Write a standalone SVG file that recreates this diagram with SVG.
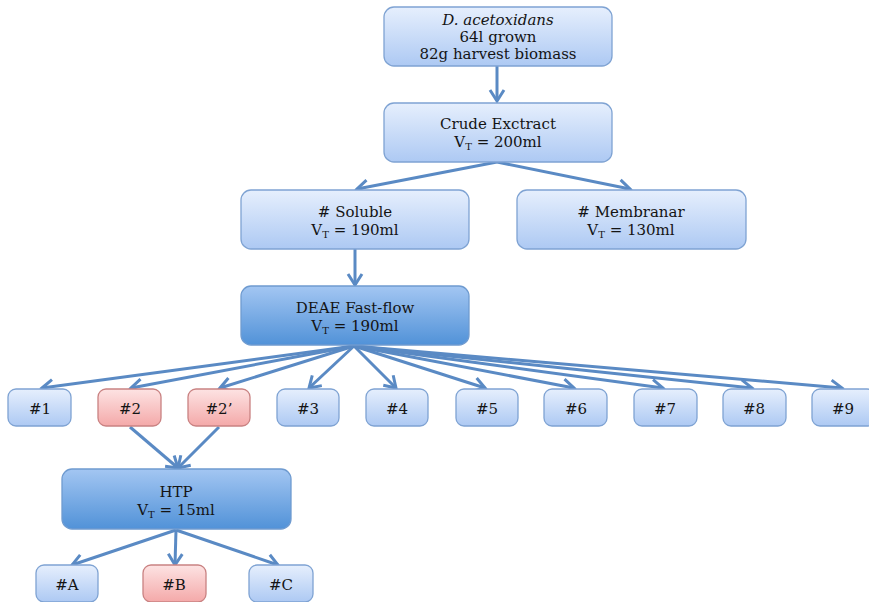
<svg xmlns="http://www.w3.org/2000/svg" width="869" height="602" viewBox="0 0 869 602">
<style>
text{font-family:"DejaVu Serif","Liberation Serif",serif;font-size:15px;fill:#141414;text-anchor:middle}
.lb{fill:url(#gLight);stroke:#7fa3d3;stroke-width:1.3}
.db{fill:url(#gDark);stroke:#6f9bd0;stroke-width:1.3}
.pk{fill:url(#gPink);stroke:#c98282;stroke-width:1.3}
.c{stroke:#5a8ac4;stroke-width:3;fill:none;marker-end:url(#ah)}
.sub{font-size:10px}
</style>
<defs>
<linearGradient id="gLight" x1="0" y1="0" x2="0" y2="1"><stop offset="0" stop-color="#e6effd"/><stop offset="1" stop-color="#adc9f3"/></linearGradient>
<linearGradient id="gDark" x1="0" y1="0" x2="0" y2="1"><stop offset="0" stop-color="#a3c6f2"/><stop offset="1" stop-color="#5192d8"/></linearGradient>
<linearGradient id="gPink" x1="0" y1="0" x2="0" y2="1"><stop offset="0" stop-color="#fde3e3"/><stop offset="1" stop-color="#f4a9a9"/></linearGradient>
<marker id="ah" markerUnits="userSpaceOnUse" markerWidth="18" markerHeight="18" viewBox="0 0 18 18" refX="15" refY="9" orient="auto"><path d="M4,2 L15,9 L4,16" fill="none" stroke="#5a8ac4" stroke-width="3" stroke-linejoin="miter"/></marker>
</defs>
<g id="connectors">
<path class="c" d="M497,66 L497,101"/>
<path class="c" d="M497,162 L357,189"/>
<path class="c" d="M497,162 L630,189"/>
<path class="c" d="M355,249 L355,285"/>
<path class="c" d="M354,346 L42,388"/>
<path class="c" d="M354,346 L131,388"/>
<path class="c" d="M354,346 L220,388"/>
<path class="c" d="M354,346 L309,388"/>
<path class="c" d="M354,346 L396,388"/>
<path class="c" d="M354,346 L485,388"/>
<path class="c" d="M354,346 L574,388"/>
<path class="c" d="M354,346 L663,388"/>
<path class="c" d="M354,346 L752,388"/>
<path class="c" d="M354,346 L842,388"/>
<path class="c" d="M130,427 L178,468"/>
<path class="c" d="M219,427 L178,468"/>
<path class="c" d="M176,530 L72,565"/>
<path class="c" d="M176,530 L175,565"/>
<path class="c" d="M176,530 L278,565"/>
</g>
<g id="n-source"><rect class="lb" x="384" y="7" width="228" height="59" rx="10"/><text x="498" y="25"><tspan font-style="italic">D. acetoxidans</tspan></text><text x="498" y="42">64l grown</text><text x="498" y="59">82g harvest biomass</text></g>
<g id="n-crude"><rect class="lb" x="384" y="103" width="228" height="59" rx="10"/><text x="498" y="129">Crude Exctract</text><text x="498" y="147">V<tspan class="sub" dy="3">T</tspan><tspan dy="-3"> = 200ml</tspan></text></g>
<g id="n-soluble"><rect class="lb" x="241" y="190" width="228" height="59" rx="10"/><text x="355" y="217"># Soluble</text><text x="355" y="235">V<tspan class="sub" dy="3">T</tspan><tspan dy="-3"> = 190ml</tspan></text></g>
<g id="n-membranar"><rect class="lb" x="517" y="190" width="229" height="59" rx="10"/><text x="631" y="217"># Membranar</text><text x="631" y="235">V<tspan class="sub" dy="3">T</tspan><tspan dy="-3"> = 130ml</tspan></text></g>
<g id="n-deae"><rect class="db" x="241" y="286" width="228" height="59" rx="10"/><text x="355" y="313">DEAE Fast-flow</text><text x="355" y="331">V<tspan class="sub" dy="3">T</tspan><tspan dy="-3"> = 190ml</tspan></text></g>
<g id="n-1"><rect class="lb" x="8" y="389" width="63" height="37" rx="8"/><text x="40" y="414">#1</text></g>
<g id="n-2"><rect class="pk" x="98" y="389" width="63" height="37" rx="8"/><text x="130" y="414">#2</text></g>
<g id="n-2p"><rect class="pk" x="188" y="389" width="62" height="37" rx="8"/><text x="219" y="414">#2’</text></g>
<g id="n-3"><rect class="lb" x="277" y="389" width="62" height="37" rx="8"/><text x="308" y="414">#3</text></g>
<g id="n-4"><rect class="lb" x="366" y="389" width="62" height="37" rx="8"/><text x="397" y="414">#4</text></g>
<g id="n-5"><rect class="lb" x="456" y="389" width="62" height="37" rx="8"/><text x="487" y="414">#5</text></g>
<g id="n-6"><rect class="lb" x="544" y="389" width="63" height="37" rx="8"/><text x="576" y="414">#6</text></g>
<g id="n-7"><rect class="lb" x="634" y="389" width="63" height="37" rx="8"/><text x="665" y="414">#7</text></g>
<g id="n-8"><rect class="lb" x="723" y="389" width="63" height="37" rx="8"/><text x="754" y="414">#8</text></g>
<g id="n-9"><rect class="lb" x="812" y="389" width="63" height="37" rx="8"/><text x="843" y="414">#9</text></g>
<g id="n-htp"><rect class="db" x="62" y="469" width="229" height="60" rx="10"/><text x="176" y="497">HTP</text><text x="176" y="515">V<tspan class="sub" dy="3">T</tspan><tspan dy="-3"> = 15ml</tspan></text></g>
<g id="n-a"><rect class="lb" x="36" y="565" width="62" height="37" rx="8"/><text x="67" y="590">#A</text></g>
<g id="n-b"><rect class="pk" x="143" y="565" width="63" height="37" rx="8"/><text x="174" y="590">#B</text></g>
<g id="n-c"><rect class="lb" x="249" y="565" width="64" height="37" rx="8"/><text x="281" y="590">#C</text></g>
</svg>
